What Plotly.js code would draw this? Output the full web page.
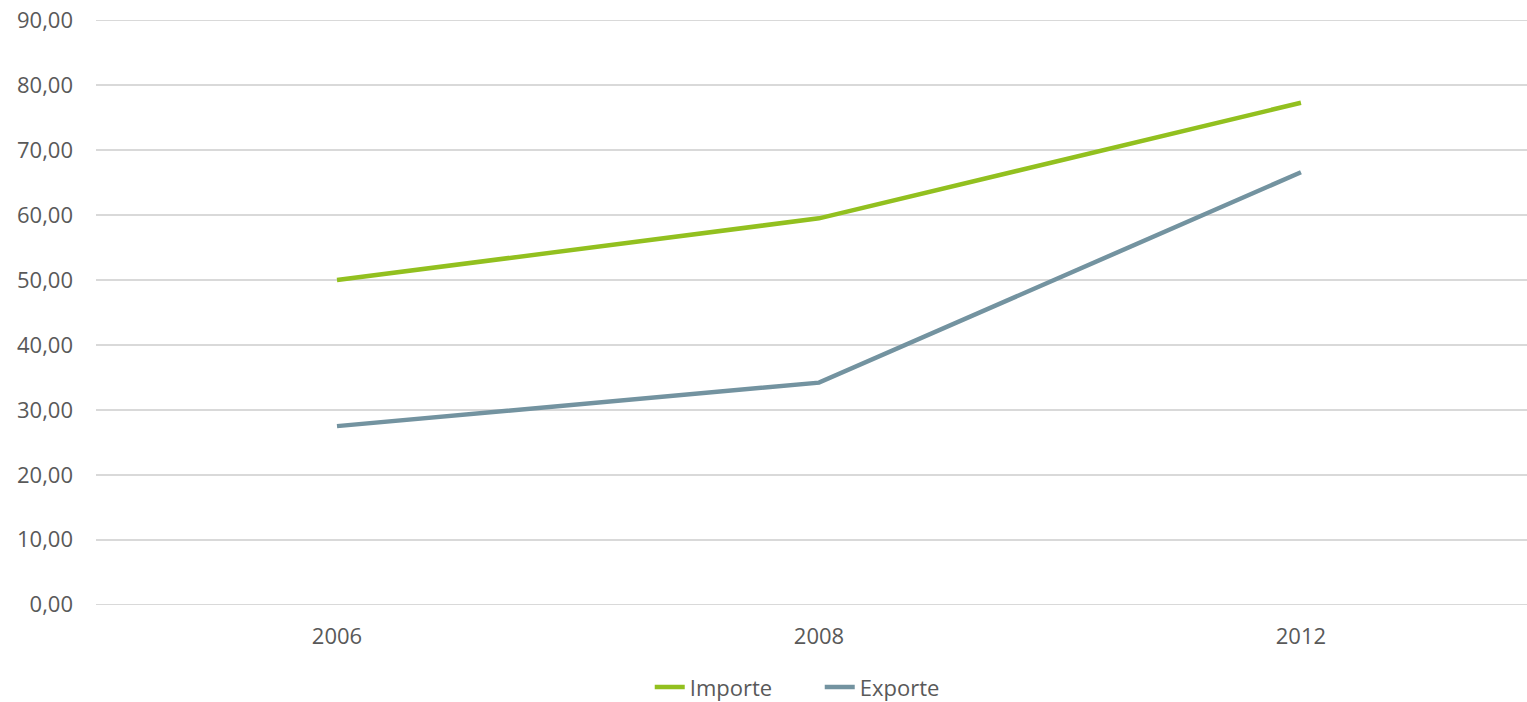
<!DOCTYPE html>
<html>
<head>
<meta charset="utf-8">
<script src="https://cdn.plot.ly/plotly-3.0.1.min.js"></script>
<style>
html,body{margin:0;padding:0;background:#fff;overflow:hidden;}
#chart{width:1527px;height:702px;}
</style>
</head>
<body>
<div id="chart"></div>
<script>
const years = ['2006', '2008', '2012'];
const importe = [50.0, 59.5, 77.3];
const exporte = [27.5, 34.2, 66.6];
const yTicks = [0, 10, 20, 30, 40, 50, 60, 70, 80, 90];

const font = {family: '"Open Sans", "Noto Sans", sans-serif', size: 22, color: '#595959'};

const traces = [
  {x: years, y: importe, name: 'Importe', type: 'scatter', mode: 'lines',
   line: {color: '#92C01F', width: 4.5}},
  {x: years, y: exporte, name: 'Exporte', type: 'scatter', mode: 'lines',
   line: {color: '#7393A0', width: 4.5}}
];

const layout = {
  width: 1527, height: 702,
  margin: {l: 96, r: 0, t: 18.7, b: 95.7},
  paper_bgcolor: '#fff', plot_bgcolor: '#fff',
  font: font,
  separators: ',.',
  showlegend: true,
  legend: {orientation: 'h', xref: 'container', yref: 'container',
           x: 0.4255, xanchor: 'left', y: 0.021, yanchor: 'middle',
           entrywidth: 125, entrywidthmode: 'pixels',
           font: font, itemwidth: 30, traceorder: 'normal'},
  xaxis: {type: 'category', range: [-0.5, 2.469], showgrid: false, zeroline: false,
          showline: false, ticks: '', ticklabelstandoff: 15, tickfont: font, fixedrange: true},
  yaxis: {range: [-0.2, 90.2], tickvals: yTicks, tickformat: '.2f', showgrid: true,
          gridcolor: '#d9d9d9', gridwidth: 1.5, zeroline: false, showline: false,
          ticks: '', ticklabelstandoff: 22, tickfont: font, fixedrange: true}
};

Plotly.newPlot('chart', traces, layout, {displayModeBar: false, staticPlot: true});
</script>
</body>
</html>
